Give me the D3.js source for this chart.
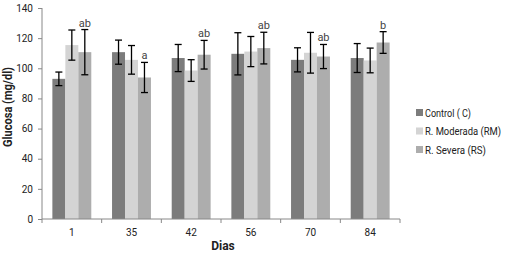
<!DOCTYPE html>
<html>
<head>
<meta charset="utf-8">
<script src="https://cdn.jsdelivr.net/npm/d3@7"></script>
<style>
    body { margin: 0; background: #fff; }
    text { font-family: Roboto, "Liberation Sans", sans-serif; fill: #222; }
</style>
</head>
<body>
<svg id="chart" width="506" height="258"></svg>
<script>
// Donnees
const days = ["1", "35", "42", "56", "70", "84"];
const seriesNames = ["Control ( C)", "R. Moderada (RM)", "R. Severa (RS)"];
const controlValues = [93, 110.7, 106.8, 109.6, 105.6, 106.8];
const controlErrors = [4.5, 8, 9, 14, 8, 9.6];
const moderadaValues = [115.4, 105.6, 98.5, 111.1, 110.3, 105.2];
const moderadaErrors = [10, 9.5, 7.2, 10, 13.5, 8.2];
const severaValues = [110.7, 93.9, 109, 113.4, 107.8, 117.1];
const severaErrors = [15, 10, 9.5, 10.5, 8, 7.2];
const letters = ["ab", "a", "ab", "ab", "ab", "b"];
const yTicks = [0, 20, 40, 60, 80, 100, 120, 140];
const seriesColors = ["#7c7c7c", "#d4d4d4", "#adadad"];
const legendWidths = [46, 76, 61];

const svg = d3.select("#chart");
const margin = { left: 42, right: 106, top: 8, bottom: 39 };
const width = 506, height = 258;

const xScale = d3.scaleBand().domain(days).range([margin.left, width - margin.right]).paddingInner(0).paddingOuter(0);
const innerScale = d3.scaleBand().domain(d3.range(seriesNames.length)).range([0, xScale.bandwidth()]).paddingOuter(0.8).paddingInner(0);
const yScale = d3.scaleLinear().domain([0, 140]).range([height - margin.bottom, margin.top]);

const allValues = [controlValues, moderadaValues, severaValues];
const allErrors = [controlErrors, moderadaErrors, severaErrors];

const bars = [];
days.forEach(function(day, dayIndex) {
    allValues.forEach(function(values, seriesIndex) {
        bars.push({
            day: day,
            series: seriesIndex,
            value: values[dayIndex],
            error: allErrors[seriesIndex][dayIndex]
        });
    });
});

// Barres
svg.selectAll(".bar")
    .data(bars)
    .enter()
    .append("rect")
    .attr("class", "bar")
    .attr("x", function(d) { return xScale(d.day) + innerScale(d.series); })
    .attr("y", function(d) { return yScale(d.value); })
    .attr("width", innerScale.bandwidth())
    .attr("height", function(d) { return yScale(0) - yScale(d.value); })
    .attr("fill", function(d) { return seriesColors[d.series]; });

// Barres d'erreur
const errGroup = svg.append("g").attr("stroke", "#000").attr("stroke-width", 1.3);
bars.forEach(function(d) {
    const cx = xScale(d.day) + innerScale(d.series) + innerScale.bandwidth() / 2;
    const top = yScale(d.value + d.error);
    const bottom = yScale(d.value - d.error);
    errGroup.append("line").attr("x1", cx).attr("x2", cx).attr("y1", top).attr("y2", bottom);
    errGroup.append("line").attr("x1", cx - 3.5).attr("x2", cx + 3.5).attr("y1", top).attr("y2", top);
    errGroup.append("line").attr("x1", cx - 3.5).attr("x2", cx + 3.5).attr("y1", bottom).attr("y2", bottom);
});

// Lettres de signification
svg.selectAll(".letter")
    .data(days)
    .enter()
    .append("text")
    .attr("class", "letter")
    .attr("x", function(day) { return xScale(day) + innerScale(2) + innerScale.bandwidth() / 2; })
    .attr("y", function(day, i) { return yScale(severaValues[i] + severaErrors[i]) - 3; })
    .attr("text-anchor", "middle")
    .attr("font-size", 11)
    .style("fill", "#444")
    .text(function(day, i) { return letters[i]; });

// Axes
const yAxis = svg.append("g")
    .attr("transform", "translate(" + margin.left + ",0)")
    .call(d3.axisLeft(yScale).tickValues(yTicks).tickSize(4).tickPadding(5));
yAxis.selectAll("text").attr("font-size", 10);

const xAxis = svg.append("g")
    .attr("transform", "translate(0," + yScale(0) + ")")
    .call(d3.axisBottom(xScale).tickSize(0).tickPadding(10));
xAxis.selectAll("text").attr("font-size", 10);

const boundaries = days.map(function(day) { return xScale(day); }).concat([width - margin.right]);
xAxis.selectAll(".boundary")
    .data(boundaries)
    .enter()
    .append("line")
    .attr("class", "boundary")
    .attr("x1", function(x) { return x; })
    .attr("x2", function(x) { return x; })
    .attr("y1", 0)
    .attr("y2", 4)
    .attr("stroke", "#888");

svg.selectAll(".domain").attr("stroke", "#888");
svg.selectAll(".tick line").attr("stroke", "#888");
yAxis.select(".domain").attr("d", "M0," + yScale(140) + "V" + yScale(0));
xAxis.select(".domain").attr("d", "M" + margin.left + ",0H" + (width - margin.right));

// Titres des axes
svg.append("text")
    .attr("transform", "rotate(-90)")
    .attr("x", -107)
    .attr("y", 12)
    .attr("text-anchor", "middle")
    .attr("font-size", 12)
    .attr("font-weight", "bold")
    .attr("textLength", 80)
    .attr("lengthAdjust", "spacingAndGlyphs")
    .text("Glucosa (mg/dl)");

svg.append("text")
    .attr("x", 223)
    .attr("y", 250)
    .attr("text-anchor", "middle")
    .attr("font-size", 12)
    .attr("font-weight", "bold")
    .text("Dias");

// Legende
const legend = svg.append("g").attr("transform", "translate(416,108)");
seriesNames.forEach(function(name, i) {
    const item = legend.append("g").attr("transform", "translate(0," + (i * 18.5) + ")");
    item.append("rect")
        .attr("width", 7)
        .attr("height", 7)
        .attr("y", 1)
        .attr("fill", seriesColors[i]);
    item.append("text")
        .attr("x", 9)
        .attr("y", 8.5)
        .attr("font-size", 10)
        .attr("textLength", legendWidths[i])
        .attr("lengthAdjust", "spacingAndGlyphs")
        .text(name);
});
</script>
</body>
</html>
